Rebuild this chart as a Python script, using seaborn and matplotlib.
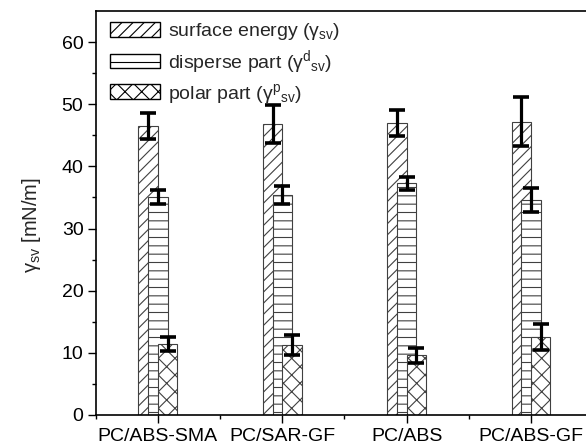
import numpy as np
import pandas as pd
import matplotlib
matplotlib.use("Agg")
import matplotlib.pyplot as plt
import seaborn as sns

# ---- data ----
categories = ['PC/ABS-SMA', 'PC/SAR-GF', 'PC/ABS', 'PC/ABS-GF']
surface = [46.5, 46.8, 47.0, 47.2]
surface_err = [2.1, 3.1, 2.1, 4.0]
disperse = [35.1, 35.4, 37.3, 34.6]
disperse_err = [1.1, 1.5, 1.05, 1.95]
polar = [11.4, 11.3, 9.6, 12.6]
polar_err = [1.1, 1.6, 1.2, 2.1]
series_labels = ['surface energy (γ$_{\\mathrm{sv}}$)',
                 'disperse part (γ$^{\\mathrm{d}}$$_{\\mathrm{sv}}$)',
                 'polar part (γ$^{\\mathrm{p}}$$_{\\mathrm{sv}}$)']
y_ticks = [0, 10, 20, 30, 40, 50, 60]

sns.set_theme(style='ticks')
plt.rcParams['font.family'] = ['Liberation Sans', 'DejaVu Sans']
plt.rcParams['mathtext.fontset'] = 'custom'
plt.rcParams['mathtext.rm'] = 'Liberation Sans'
plt.rcParams['mathtext.it'] = 'Liberation Sans:italic'
plt.rcParams['mathtext.bf'] = 'Liberation Sans:bold'
plt.rcParams['hatch.linewidth'] = 0.8
plt.rcParams['hatch.color'] = 'black'

fig = plt.figure(figsize=(5.86, 4.47), dpi=100)
ax = fig.add_axes([0.1633, 0.0716, 0.849, 0.9038])

pos = np.arange(len(categories))
bw = 0.156
offsets = [-bw / 2, 0.0, bw / 2]
hatches = ['///', '--', 'xx']
series = [surface, disperse, polar]
errs = [surface_err, disperse_err, polar_err]

for vals, err, off, h, lab in zip(series, errs, offsets, hatches, series_labels):
    xs = pos + off
    sns.barplot(x=xs, y=vals, native_scale=True, width=bw, color='white',
                saturation=1, edgecolor='0.25', linewidth=0.8, hatch=h,
                errorbar=None, label=lab, ax=ax)
for vals, err, off in zip(series, errs, offsets):
    ax.errorbar(pos + off, vals, yerr=err, fmt='none', ecolor='black',
                elinewidth=2.3, capsize=5.6, capthick=2.6, zorder=5)

ax.set_xlim(-0.5, 3.5)
ax.set_ylim(0, 65)
ax.set_xticks(pos)
ax.set_xticklabels(categories)
ax.set_xticks([-0.5, 0.5, 1.5, 2.5, 3.5], minor=True)
ax.set_yticks(y_ticks)
ax.set_yticks(np.arange(5, 65, 10), minor=True)
ax.tick_params(axis='both', which='major', direction='out', length=5.8,
               width=1.0, labelsize=14, color='black', labelcolor='black')
ax.tick_params(axis='x', which='major', pad=3.5)
ax.tick_params(axis='y', which='major', pad=3)
ax.tick_params(axis='both', which='minor', direction='out', length=3.2,
               width=1.0, color='black')
ax.set_xlabel('')
ax.set_ylabel('γ$_{\\mathrm{sv}}$ [mN/m]', fontsize=14.5)
ax.yaxis.set_label_coords(-0.106, 0.47)
for s in ax.spines.values():
    s.set_linewidth(1.2)
    s.set_color('black')

leg = ax.legend(loc='upper left', bbox_to_anchor=(0.02, 0.985), frameon=False,
                fontsize=14, handlelength=2.6, handleheight=0.8,
                labelspacing=0.3, handletextpad=0.4, borderpad=0.2,
                borderaxespad=0.0)
for p in leg.get_patches():
    p.set_edgecolor('black')
    p.set_linewidth(1.0)

fig.savefig('out.png', dpi=100)
